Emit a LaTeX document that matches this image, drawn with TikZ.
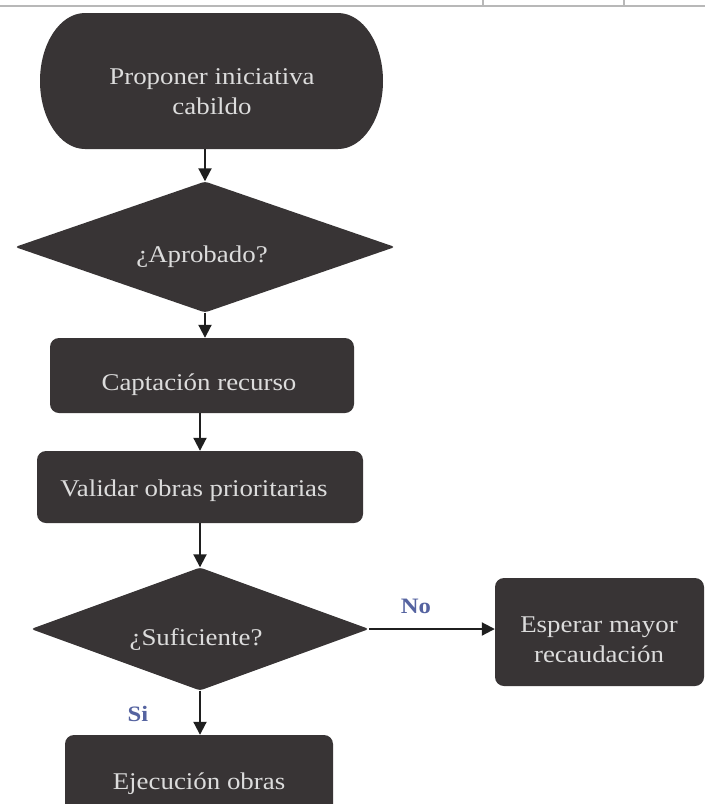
\documentclass[tikz,border=0pt]{standalone}
\usepackage{fontspec}
\setmainfont{Liberation Serif}[FakeStretch=1.12]
\usetikzlibrary{shapes.geometric,arrows.meta}
\definecolor{boxfill}{HTML}{383435}
\definecolor{boxtext}{HTML}{DCDCDC}
\definecolor{answer}{HTML}{5563A0}
\definecolor{rulegrey}{HTML}{B8B8B8}
\begin{document}
\begin{tikzpicture}[x=1pt,y=-1pt,
  procbox/.style={rectangle,rounded corners=9pt,fill=boxfill,draw=none,inner sep=0pt},
  decbox/.style={diamond,fill=boxfill,draw=none,inner sep=0pt,rounded corners=3pt},
  anchorbox/.style={rectangle,draw=none,inner sep=0pt},
  lbl/.style={text=boxtext,align=center,inner sep=0pt,font=\fontsize{24}{30}\selectfont},
  ans/.style={text=answer,inner sep=0pt,font=\bfseries\fontsize{22}{26}\selectfont},
  arr/.style={-{Triangle[width=13pt,length=13pt]},line width=2pt,draw=black!88}]
  \clip (0,0) rectangle (705,804);
  \fill[white] (0,0) rectangle (705,804);

  % remains of the table frame above the chart
  \draw[rulegrey,line width=1.2pt] (0,6) -- (705,6);
  \draw[rulegrey,line width=1.2pt] (483,0) -- (483,6);
  \draw[rulegrey,line width=1.2pt] (624,0) -- (624,6);

  % start terminal with elliptical ends
  \fill[boxfill] (85,13) -- (338,13)
    arc[start angle=-90,end angle=90,x radius=45,y radius=68]
    -- (85,149)
    arc[start angle=90,end angle=270,x radius=45,y radius=68] -- cycle;
  \node[anchorbox,minimum width=343pt,minimum height=136pt] (start) at (211.5,81) {};
  \node[lbl] (tstart) at (212,92) {Proponer iniciativa\\cabildo};

  % first decision
  \node[decbox,minimum width=380pt,minimum height=131pt] (d1) at (205,247) {};
  \node[lbl] (td1) at (202,257) {¿Aprobado?};

  % process boxes
  \node[procbox,minimum width=304pt,minimum height=75pt] (b1) at (202,375.5) {};
  \node[lbl] (tb1) at (199,385) {Captación recurso};

  \node[procbox,minimum width=326pt,minimum height=72pt] (b2) at (200,487) {};
  \node[lbl] (tb2) at (194,491) {Validar obras prioritarias};

  % second decision
  \node[decbox,minimum width=338pt,minimum height=123pt] (d2) at (200,629) {};
  \node[lbl] (td2) at (196,640) {¿Suficiente?};

  \node[procbox,minimum width=209pt,minimum height=108pt] (b3) at (599.5,632) {};
  \node[lbl] (tb3) at (599,640) {Esperar mayor\\recaudación};

  \node[procbox,minimum width=268pt,minimum height=100pt] (b4) at (199,785) {};
  \node[lbl] (tb4) at (199,784) {Ejecución obras};

  % connectors
  \draw[arr] (d1.north |- start.south) -- (d1.north);
  \draw[arr] (d1.south) -- (d1.south |- b1.north);
  \draw[arr] (b2.north |- b1.south) -- (b2.north);
  \draw[arr] (b2.south) -- (d2.north);
  \draw[arr] (d2.east) -- (d2.east -| b3.west);
  \draw[arr] (d2.south) -- (d2.south |- b4.north);

  % branch labels
  \node[ans] (lno) at (416,606) {No};
  \node[ans] (lsi) at (138,714) {Si};
\end{tikzpicture}
\end{document}
